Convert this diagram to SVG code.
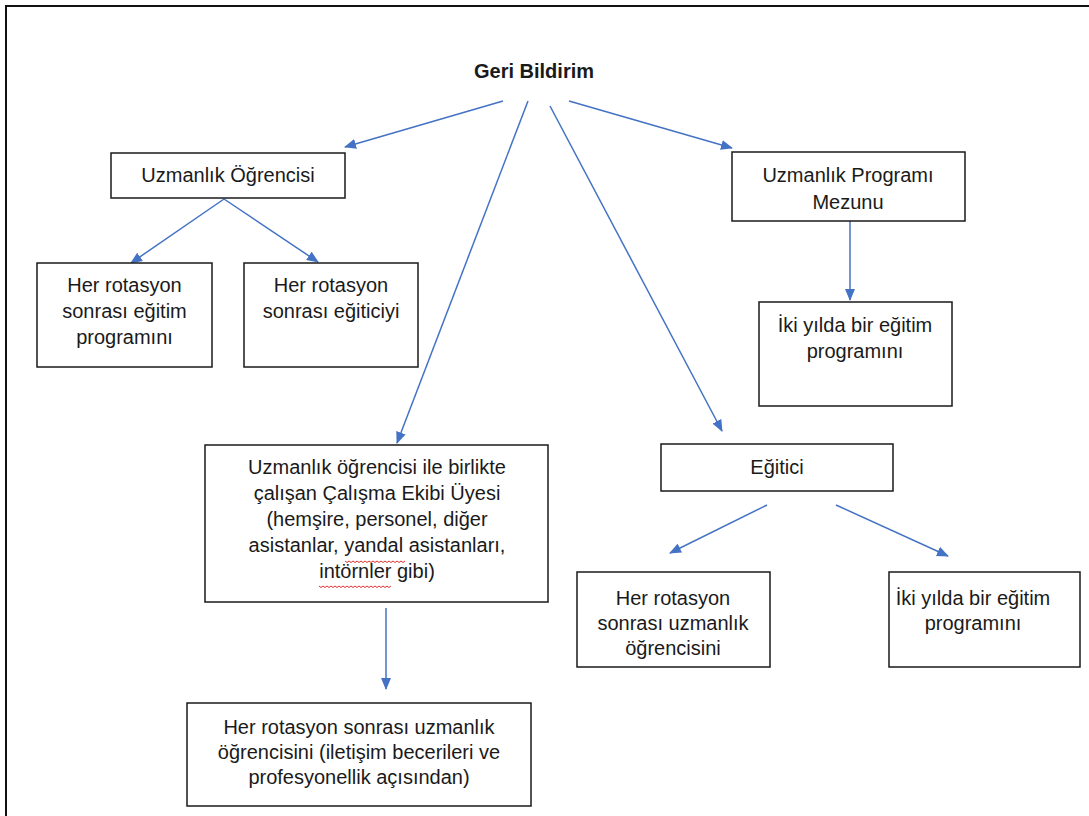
<svg xmlns="http://www.w3.org/2000/svg" width="1089" height="816" viewBox="0 0 1089 816">
<defs>
<marker id="ah" markerUnits="userSpaceOnUse" markerWidth="12" markerHeight="10" refX="11" refY="5" orient="auto">
<path d="M0,0 L12,5 L0,10 z" fill="#4472C4"/>
</marker>
<style>
.box{fill:#fff;stroke:#1a1a1a;stroke-width:1.5}
.t{font-family:"Liberation Sans",Arial,sans-serif;font-size:20px;fill:#1a1a1a;text-anchor:middle}
.b{font-weight:bold;font-size:20px}
.c{stroke:#4472C4;stroke-width:1.5;fill:none;marker-end:url(#ah)}
.sq{stroke:#e03030;stroke-width:1;fill:none}
</style>
</defs>
<rect width="1089" height="816" fill="#fff"/>
<path d="M6,816 V6 H1089" fill="none" stroke="#111" stroke-width="2"/>

<g id="connectors">
<line class="c" x1="503" y1="101" x2="345" y2="147"/>
<line class="c" x1="528" y1="101" x2="397" y2="443"/>
<line class="c" x1="550" y1="106" x2="722" y2="431"/>
<line class="c" x1="569" y1="101" x2="732" y2="148"/>
<line class="c" x1="224" y1="199" x2="131" y2="263"/>
<line class="c" x1="224" y1="199" x2="318" y2="262"/>
<line class="c" x1="850" y1="221" x2="850" y2="300"/>
<line class="c" x1="386" y1="608" x2="386" y2="689"/>
<line class="c" x1="767" y1="505" x2="670" y2="553"/>
<line class="c" x1="836" y1="505" x2="948" y2="556"/>
</g>

<g id="root">
<text class="t b" x="534" y="78">Geri Bildirim</text>
</g>

<g id="uzmanlik-ogrencisi">
<rect class="box" x="111" y="153" width="234" height="45"/>
<text class="t" x="228" y="182">Uzmanlık Öğrencisi</text>
</g>

<g id="egitim-programi">
<rect class="box" x="37" y="263" width="175" height="104"/>
<text class="t" x="124.5" y="292">Her rotasyon</text>
<text class="t" x="124.5" y="318">sonrası eğitim</text>
<text class="t" x="124.5" y="344">programını</text>
</g>

<g id="egiticiyi">
<rect class="box" x="244" y="263" width="174" height="104"/>
<text class="t" x="331" y="292">Her rotasyon</text>
<text class="t" x="331" y="318">sonrası eğiticiyi</text>
</g>

<g id="mezun">
<rect class="box" x="732" y="152" width="233" height="69"/>
<text class="t" x="848" y="182">Uzmanlık Programı</text>
<text class="t" x="848" y="209">Mezunu</text>
</g>

<g id="mezun-iki-yilda">
<rect class="box" x="759" y="302" width="193" height="104"/>
<text class="t" x="855" y="332">İki yılda bir eğitim</text>
<text class="t" x="855" y="358">programını</text>
</g>

<g id="calisma-ekibi">
<rect class="box" x="205" y="445" width="343" height="157"/>
<text class="t" x="377" y="474">Uzmanlık öğrencisi ile birlikte</text>
<text class="t" x="377" y="500">çalışan Çalışma Ekibi Üyesi</text>
<text class="t" x="377" y="526">(hemşire, personel, diğer</text>
<text class="t" x="377" y="552">asistanlar, yandal asistanları,</text>
<text class="t" x="377" y="578">intörnler gibi)</text>
<path class="sq" d="M345,561 l2,1.5 l2,-1.5 l2,1.5 l2,-1.5 l2,1.5 l2,-1.5 l2,1.5 l2,-1.5 l2,1.5 l2,-1.5 l2,1.5 l2,-1.5 l2,1.5 l2,-1.5 l2,1.5 l2,-1.5 l2,1.5 l2,-1.5 l2,1.5 l2,-1.5 l2,1.5 l2,-1.5 l2,1.5 l2,-1.5 l2,1.5 l2,-1.5 l2,1.5 l2,-1.5 l2,1.5 l2,-1.5"/>
<path class="sq" d="M319,586 l2,1.5 l2,-1.5 l2,1.5 l2,-1.5 l2,1.5 l2,-1.5 l2,1.5 l2,-1.5 l2,1.5 l2,-1.5 l2,1.5 l2,-1.5 l2,1.5 l2,-1.5 l2,1.5 l2,-1.5 l2,1.5 l2,-1.5 l2,1.5 l2,-1.5 l2,1.5 l2,-1.5 l2,1.5 l2,-1.5 l2,1.5 l2,-1.5 l2,1.5 l2,-1.5 l2,1.5 l2,-1.5 l2,1.5 l2,-1.5 l2,1.5 l2,-1.5 l2,1.5 l2,-1.5"/>
</g>

<g id="ekip-uzmanlik">
<rect class="box" x="187" y="703" width="344" height="103"/>
<text class="t" x="359" y="734">Her rotasyon sonrası uzmanlık</text>
<text class="t" x="359" y="759">öğrencisini (iletişim becerileri ve</text>
<text class="t" x="359" y="784">profesyonellik açısından)</text>
</g>

<g id="egitici">
<rect class="box" x="661" y="444" width="232" height="47"/>
<text class="t" x="777" y="474">Eğitici</text>
</g>

<g id="egitici-uzmanlik">
<rect class="box" x="577" y="572" width="193" height="95"/>
<text class="t" x="673" y="605">Her rotasyon</text>
<text class="t" x="673" y="630">sonrası uzmanlık</text>
<text class="t" x="673" y="655">öğrencisini</text>
</g>

<g id="egitici-iki-yilda">
<rect class="box" x="889" y="572" width="191" height="95"/>
<text class="t" x="973" y="605">İki yılda bir eğitim</text>
<text class="t" x="973" y="630">programını</text>
</g>
</svg>
